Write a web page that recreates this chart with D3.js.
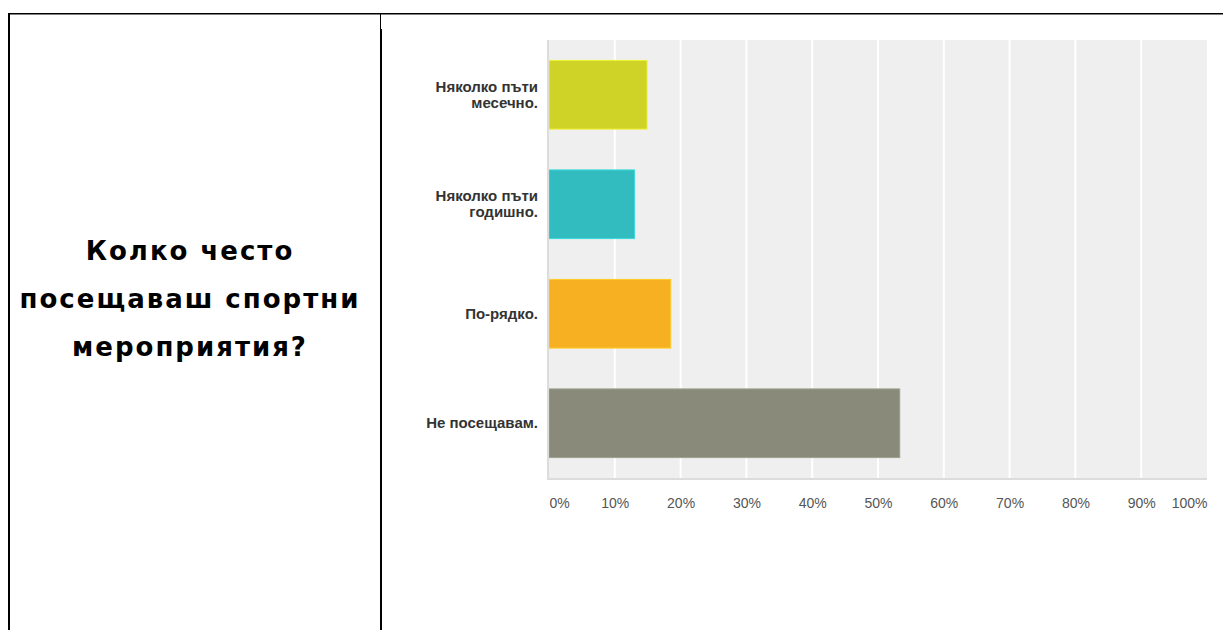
<!DOCTYPE html>
<html>
<head>
<meta charset="utf-8">
<script src="https://cdn.jsdelivr.net/npm/d3@7"></script>
<style>
  body { margin: 0; background: #fff; }
  svg { display: block; }
  .tick text { font-family: "Liberation Sans", Arial, sans-serif; }
</style>
</head>
<body>
<div class="chart"></div>
<script>
// question (left cell)
const titleLines = ["Колко често", "посещаваш спортни", "мероприятия?"]

// answers and share of responses (%)
const categories = [
  ["Няколко пъти", "месечно."],
  ["Няколко пъти", "годишно."],
  ["По-рядко."],
  ["Не посещавам."]
]
const values = [14.9, 13.0, 18.5, 53.3]
const barColors = ["#cfd328", "#33bcbf", "#f6b021", "#898a7a"]
const ticks = [0, 10, 20, 30, 40, 50, 60, 70, 80, 90, 100]

const W = 1223, H = 630

const svg = d3.select(".chart").append("svg")
    .attr("width", W)
    .attr("height", H)

// table borders
const border = svg.append("g").attr("stroke", "#000")
border.append("line").attr("x1", 8).attr("x2", W).attr("y1", 13.75).attr("y2", 13.75).attr("stroke-width", 1.5)
border.append("line").attr("x1", 9).attr("x2", 9).attr("y1", 13).attr("y2", H).attr("stroke-width", 2)
border.append("line").attr("x1", 380.5).attr("x2", 380.5).attr("y1", 13).attr("y2", 30).attr("stroke-width", 1)
border.append("line").attr("x1", 381).attr("x2", 381).attr("y1", 29).attr("y2", H).attr("stroke-width", 2)

// title
svg.append("text")
    .attr("x", 190)
    .attr("y", 260)
    .attr("text-anchor", "middle")
    .style("font-family", "'DejaVu Sans', sans-serif")
    .style("font-weight", "bold")
    .style("font-size", "26px")
    .style("letter-spacing", "2px")
    .style("fill", "#000")
  .selectAll("tspan")
    .data(titleLines)
  .enter().append("tspan")
    .attr("x", 190)
    .attr("dy", function(d, i) { return i === 0 ? 0 : 48 })
    .text(function(d) { return d })

// chart
const plot = {left: 549, right: 1207, top: 40, bottom: 478}

const x = d3.scaleLinear()
    .domain([0, 100])
    .range([plot.left, plot.right])

const y = d3.scaleBand()
    .domain(d3.range(categories.length))
    .range([plot.top, plot.bottom])
    .paddingInner(0.373)
    .paddingOuter(0.1865)

svg.append("rect")
    .attr("x", plot.left)
    .attr("y", plot.top)
    .attr("width", plot.right - plot.left)
    .attr("height", plot.bottom - plot.top)
    .style("fill", "#efefef")

svg.append("g")
  .selectAll("line")
    .data(ticks.slice(1, -1))
  .enter().append("line")
    .attr("x1", function(d) { return x(d) })
    .attr("x2", function(d) { return x(d) })
    .attr("y1", plot.top)
    .attr("y2", plot.bottom)
    .style("stroke", "#fff")
    .style("stroke-width", 2)

svg.append("g")
  .selectAll("rect")
    .data(values)
  .enter().append("rect")
    .attr("x", x(0))
    .attr("y", function(d, i) { return y(i) })
    .attr("width", function(d) { return x(d) - x(0) })
    .attr("height", y.bandwidth())
    .style("fill", function(d, i) { return barColors[i] })
    .style("stroke", function(d, i) { return d3.rgb(barColors[i]).brighter(0.4) })
    .style("stroke-width", 1)

// axis lines
svg.append("line")
    .attr("x1", plot.left - 1).attr("x2", plot.left - 1)
    .attr("y1", plot.top).attr("y2", plot.bottom + 2)
    .style("stroke", "#dcdcdc").style("stroke-width", 2)
svg.append("line")
    .attr("x1", plot.left - 2).attr("x2", plot.right)
    .attr("y1", plot.bottom + 1).attr("y2", plot.bottom + 1)
    .style("stroke", "#dcdcdc").style("stroke-width", 2)

// category labels
const labels = svg.append("g")
  .selectAll("text")
    .data(categories)
  .enter().append("text")
    .attr("text-anchor", "end")
    .attr("y", function(d, i) { return y(i) + y.bandwidth() / 2 - (d.length - 1) * 8 + 5 })
    .style("font-family", "'Liberation Sans', Arial, sans-serif")
    .style("font-weight", "bold")
    .style("font-size", "15px")
    .style("fill", "#333")

labels.selectAll("tspan")
    .data(function(d) { return d })
  .enter().append("tspan")
    .attr("x", 538)
    .attr("dy", function(d, i) { return i === 0 ? 0 : 16 })
    .text(function(d) { return d })

// x axis
const xAxis = d3.axisBottom(x)
    .tickValues(ticks)
    .tickSize(0)
    .tickPadding(0)
    .tickFormat(function(d) { return d + "%" })

const gx = svg.append("g")
    .attr("transform", "translate(0," + 508 + ")")
    .call(xAxis)

gx.select(".domain").remove()
gx.selectAll("text")
    .attr("dy", 0)
    .style("font-size", "14px")
    .style("fill", "#555")
    .attr("text-anchor", function(d) { return d === 0 ? "start" : d === 100 ? "end" : "middle" })
</script>
</body>
</html>
